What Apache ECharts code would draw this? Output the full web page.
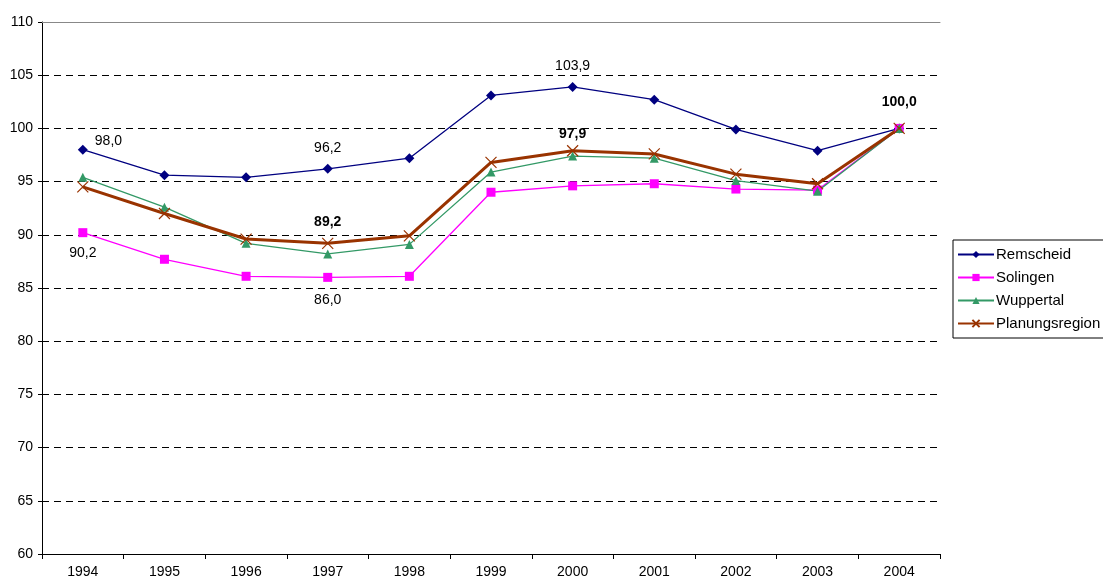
<!DOCTYPE html>
<html><head><meta charset="utf-8">
<script src="https://cdn.jsdelivr.net/npm/echarts@6/dist/echarts.min.js"></script>
<style>html,body{margin:0;padding:0;background:#fff}#c{width:1103px;height:584px}</style>
</head><body><div id="c"></div>
<script>
const years = ['1994','1995','1996','1997','1998','1999','2000','2001','2002','2003','2004'];
const remscheid = [98.0,95.6,95.4,96.2,97.2,103.1,103.9,102.7,99.9,97.9,100.0];
const solingen = [90.2,87.7,86.1,86.0,86.1,94.0,94.6,94.8,94.3,94.2,100.0];
const wuppertal = [95.4,92.6,89.2,88.2,89.1,95.9,97.4,97.2,95.1,94.1,100.0];
const planungsregion = [94.5,92.0,89.6,89.2,89.9,96.8,97.9,97.6,95.7,94.8,100.0];

const FONT = 'Liberation Sans, Arial';
const fmt = v => v.toFixed(1).replace('.', ',');
function mk(vals, labels) {
  return vals.map((v, i) => {
    const l = labels[i];
    if (!l) return v;
    return { value: v, label: Object.assign({ show: true, formatter: p => fmt(p.value), color: '#000', fontFamily: FONT, fontSize: 14 }, l) };
  });
}
const xPath = 'path://M0,0 L10,10 M10,0 L0,10';
const chart = echarts.init(document.getElementById('c'));
chart.setOption({
  animation: false,
  backgroundColor: '#fff',
  textStyle: { fontFamily: FONT },
  grid: { left: 42, right: 163, top: 22, bottom: 30 },
  legend: {
    orient: 'vertical', left: 953, top: 240,
    borderColor: '#000', borderWidth: 1, padding: [6, 8, 6, 4],
    itemGap: 6, itemWidth: 36, itemHeight: 9,
    textStyle: { fontSize: 15, color: '#000', padding: [0, 0, 0, -3], lineHeight: 17 },
    data: ['Remscheid','Solingen','Wuppertal','Planungsregion']
  },
  xAxis: [{
    type: 'category', data: years, boundaryGap: true,
    axisLine: { lineStyle: { color: '#000', width: 1 } },
    axisTick: { show: true, alignWithLabel: false, length: 5, lineStyle: { color: '#000' } },
    axisLabel: { color: '#000', fontSize: 14, margin: 11 }
  }, {
    type: 'category', data: years, position: 'top', boundaryGap: true,
    axisLine: { lineStyle: { color: '#888', width: 1 } },
    axisTick: { show: false }, axisLabel: { show: false }
  }],
  yAxis: {
    type: 'value', min: 60, max: 110, interval: 5,
    axisLine: { show: true, lineStyle: { color: '#000', width: 1 } },
    axisTick: { show: true, length: 4, lineStyle: { color: '#000' } },
    axisLabel: { color: '#000', fontSize: 14, margin: 9 },
    splitLine: { show: true, lineStyle: { color: '#000', type: [7, 5], width: 1 } }
  },
  series: [
    { name: 'Remscheid', type: 'line', symbol: 'diamond', symbolSize: 10,
      itemStyle: { color: '#000080' }, lineStyle: { color: '#000080', width: 1.3 },
      data: mk(remscheid, { 0: { position: 'right', offset: [2, -9] }, 3: { position: 'top', distance: 9 }, 6: { position: 'top', distance: 9 } }) },
    { name: 'Solingen', type: 'line', symbol: 'rect', symbolSize: 9,
      itemStyle: { color: '#FF00FF' }, lineStyle: { color: '#FF00FF', width: 1.3 },
      data: mk(solingen, { 0: { position: 'bottom', distance: 9 }, 3: { position: 'bottom', distance: 11 } }) },
    { name: 'Wuppertal', type: 'line', symbol: 'triangle', symbolSize: 9,
      itemStyle: { color: '#339966' }, lineStyle: { color: '#339966', width: 1.3 },
      data: wuppertal },
    { name: 'Planungsregion', type: 'line', symbol: xPath, symbolSize: 11,
      itemStyle: { color: 'transparent', borderColor: '#993300', borderWidth: 1.2 }, lineStyle: { color: '#993300', width: 3 },
      data: mk(planungsregion, { 3: { position: 'top', distance: 8, fontWeight: 'bold' }, 6: { position: 'top', distance: 4, fontWeight: 'bold' }, 10: { position: 'top', distance: 13, fontWeight: 'bold' } }) }
  ]
});
</script></body></html>
